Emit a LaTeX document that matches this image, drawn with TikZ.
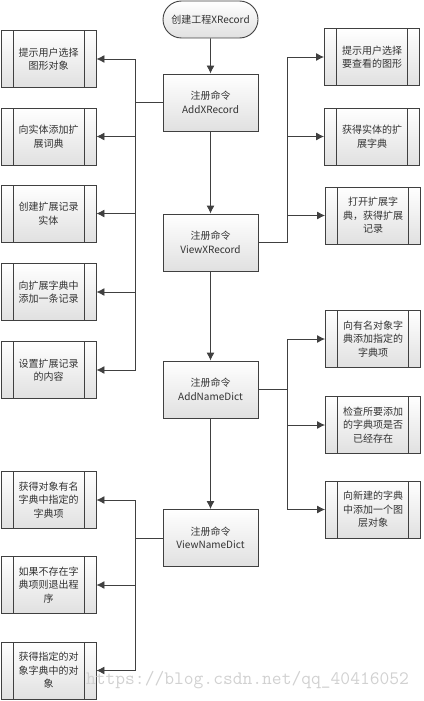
\documentclass[tikz,border=0pt]{standalone}
\usepackage{fontspec}
\setmainfont{Noto Sans CJK SC}
\usetikzlibrary{arrows.meta,shapes.misc}
\definecolor{ln}{HTML}{404040}
\definecolor{tx}{HTML}{333333}
\begin{document}
\begin{tikzpicture}[x=1pt,y=-1pt,
  base/.style={draw=ln,line width=0.9pt,top color=white,bottom color=black!12,
     text=tx,font=\fontsize{10}{13.5}\selectfont,align=center,inner sep=0pt},
  cmdbox/.style={base,minimum width=95pt,minimum height=57pt},
  subbox/.style={base,minimum width=95pt,minimum height=57pt,
     path picture={\draw[ln,line width=0.9pt]
       ([xshift=12pt]path picture bounding box.north west) -- ([xshift=12pt]path picture bounding box.south west)
       ([xshift=-12pt]path picture bounding box.north east) -- ([xshift=-12pt]path picture bounding box.south east);}},
  term/.style={base,rounded rectangle,minimum width=95pt,minimum height=37pt},
  arr/.style={draw=ln,line width=0.9pt,-{Latex[length=8pt,width=8pt]}},
  ln/.style={draw=ln,line width=0.9pt}]
\useasboundingbox (0,0) rectangle (423,701);
% center column
\node[term] (start) at (210.5,19.5) {创建工程XRecord};
\node[cmdbox] (c1) at (210.5,102.5) {注册命令\\AddXRecord};
\node[cmdbox] (c2) at (210.5,242.5) {注册命令\\ViewXRecord};
\node[cmdbox] (c3) at (210.5,389.5) {注册命令\\AddNameDict};
\node[cmdbox] (c4) at (210.5,538) {注册命令\\ViewNameDict};
% left boxes
\node[subbox] (l1) at (48.5,59) {提示用户选择\\图形对象};
\node[subbox] (l2) at (48.5,136.5) {向实体添加扩\\展词典};
\node[subbox] (l3) at (48.5,213.5) {创建扩展记录\\实体};
\node[subbox] (l4) at (48.5,292) {向扩展字典中\\添加一条记录};
\node[subbox] (l5) at (48.5,370) {设置扩展记录\\的内容};
\node[subbox] (l6) at (48.5,500) {获得对象有名\\字典中指定的\\字典项};
\node[subbox] (l7) at (48.5,585) {如果不存在字\\典项则退出程\\序};
\node[subbox] (l8) at (48.5,670.5) {获得指定的对\\象字典中的对\\象};
% right boxes
\node[subbox] (r1) at (372,57) {提示用户选择\\要查看的图形};
\node[subbox] (r2) at (372,136.5) {获得实体的扩\\展字典};
\node[subbox] (r3) at (373,215.5) {打开扩展字\\典，获得扩展\\记录};
\node[subbox] (r4) at (373,339) {向有名对象字\\典添加指定的\\字典项};
\node[subbox] (r5) at (373,425) {检查所要添加\\的字典项是否\\已经存在};
\node[subbox] (r6) at (373,509.5) {向新建的字典\\中添加一个图\\层对象};
% main flow
\draw[arr] (start) -- (c1);
\draw[arr] (c1) -- (c2);
\draw[arr] (c2) -- (c3);
\draw[arr] (c3) -- (c4);
% left bus from c1
\coordinate (bl1) at (135,102.5);
\draw[ln] (c1.west) -- (bl1);
\foreach \t in {l1,l2,l3,l4,l5} \draw[arr] (bl1) |- (\t.east);
% right bus from c2
\coordinate (br2) at (287,242.5);
\draw[ln] (c2.east) -- (br2);
\foreach \t in {r1,r2,r3} \draw[arr] (br2) |- (\t.west);
% right bus from c3
\coordinate (br3) at (287,389.5);
\draw[ln] (c3.east) -- (br3);
\foreach \t in {r4,r5,r6} \draw[arr] (br3) |- (\t.west);
% left bus from c4
\coordinate (bl4) at (135,538);
\draw[ln] (c4.west) -- (bl4);
\foreach \t in {l6,l7,l8} \draw[arr] (bl4) |- (\t.east);
% watermark
\node[text=black!18,font=\ttfamily\fontsize{19}{19}\selectfont,inner sep=0pt] (wm) at (247.5,680) {https://blog.csdn.net/qq\_40416052};
\end{tikzpicture}
\end{document}
